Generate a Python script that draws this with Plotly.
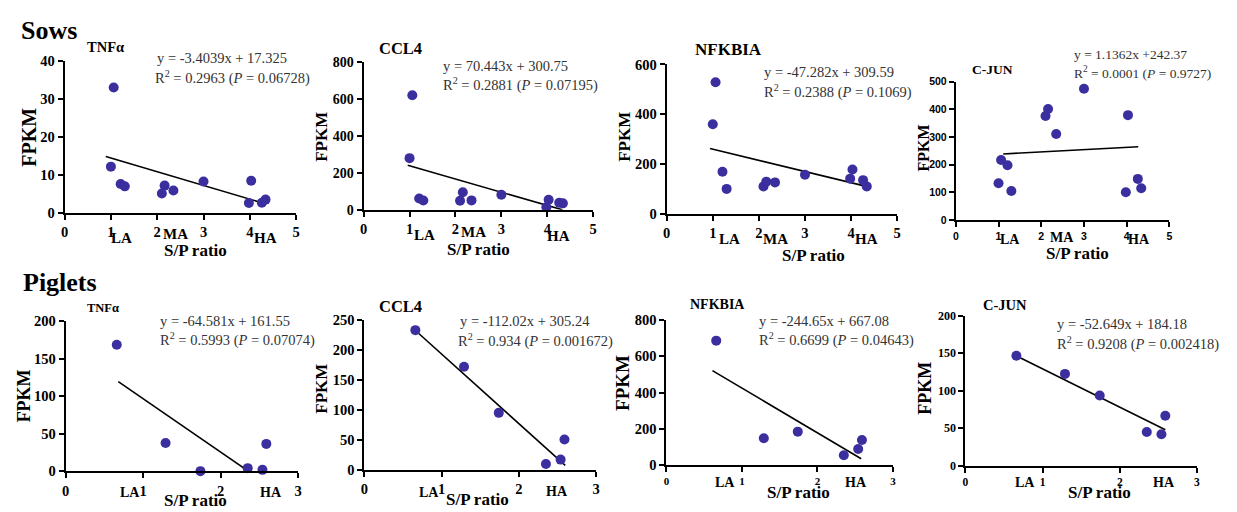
import plotly.graph_objects as go

W, H = 1237, 512
SERIF = "Liberation Serif"
SANS = "Liberation Sans"

# ---------------- data ----------------
sow_sp = [1.0, 1.06, 1.21, 1.30, 2.10, 2.16, 2.35, 3.0, 3.98, 4.03, 4.26, 4.34]
sow_tnfa = [12.2, 33.1, 7.6, 7.0, 5.1, 7.2, 5.9, 8.3, 2.6, 8.5, 2.7, 3.5]
sow_ccl4 = [280, 621, 61, 50, 49, 95, 51, 82, 14, 54, 38, 35]
sow_nfkbia = [360, 529, 170, 101, 111, 130, 127, 158, 142, 179, 136, 111]
sow_cjun = [133, 217, 198, 105, 376, 401, 311, 474, 101, 379, 149, 115]

piglet_sp = [0.66, 1.29, 1.74, 2.35, 2.54, 2.59]
piglet_tnfa = [168.6, 37.8, 0.3, 4.3, 2.0, 36.6]
piglet_ccl4 = [233, 172, 95, 9.7, 17, 50.6]
piglet_nfkbia = [686, 149, 185, 55, 89, 139]
piglet_cjun = [146.6, 122.4, 93.5, 44.8, 41.8, 66.4]

# fitted lines as drawn (start, end)
fit_sow_tnfa_x, fit_sow_tnfa_y = [0.89, 4.2], [14.9, 2.9]
fit_sow_ccl4_x, fit_sow_ccl4_y = [0.96, 4.33], [241, 0]
fit_sow_nfkbia_x, fit_sow_nfkbia_y = [0.94, 4.24], [263, 115]
fit_sow_cjun_x, fit_sow_cjun_y = [1.11, 4.27], [239, 265]
fit_pig_tnfa_x, fit_pig_tnfa_y = [0.68, 2.46], [119.6, -7]
fit_pig_ccl4_x, fit_pig_ccl4_y = [0.69, 2.6], [229, 7.5]
fit_pig_nfkbia_x, fit_pig_nfkbia_y = [0.61, 2.58], [521, 36]
fit_pig_cjun_x, fit_pig_cjun_y = [0.67, 2.59], [146, 47.8]

sow_xticks = [0, 1, 2, 3, 4, 5]
piglet_xticks = [0, 1, 2, 3]

eq_line1 = ["y = -3.4039x + 17.325", "y = 70.443x + 300.75", "y = -47.282x + 309.59",
            "y = 1.1362x +242.37", "y = -64.581x + 161.55", "y = -112.02x + 305.24",
            "y = -244.65x + 667.08", "y = -52.649x + 184.18"]
r2_vals = ["0.2963", "0.2881", "0.2388", "0.0001", "0.5993", "0.934", "0.6699", "0.9208"]
p_vals = ["0.06728", "0.07195", "0.1069", "0.9727", "0.07074", "0.001672", "0.04643", "0.002418"]
genes = ["TNFα", "CCL4", "NFKBIA", "C-JUN", "TNFα", "CCL4", "NFKBIA", "C-JUN"]

MARKER = "#3b2f9f"

panels = [
    dict(x=sow_sp, y=sow_tnfa, fx=fit_sow_tnfa_x, fy=fit_sow_tnfa_y, xt=sow_xticks, ymax=40, dy=10,
         box=(61, 55, 294, 211.5), tf=(SERIF, 14.5), xtf=(SERIF, 14.5),
         title=(82, 40, 14.5), eq=(152, 52, 150, 72, 14.5), fp=(25, 133, 20),
         grp=[("LA", 118, 237), ("MA", 173, 233), ("HA", 263, 237)], sp=(193, 250)),
    dict(x=sow_sp, y=sow_ccl4, fx=fit_sow_ccl4_x, fy=fit_sow_ccl4_y, xt=sow_xticks, ymax=800, dy=200,
         box=(362, 56, 593, 208.3), tf=(SERIF, 14), xtf=(SERIF, 14.5),
         title=(375, 42, 16.5), eq=(440, 60, 440, 79, 14.5), fp=(320, 133, 17),
         grp=[("LA", 423, 234), ("MA", 473, 231), ("HA", 558, 235)], sp=(478, 249)),
    dict(x=sow_sp, y=sow_nfkbia, fx=fit_sow_nfkbia_x, fy=fit_sow_nfkbia_y, xt=sow_xticks, ymax=600, dy=200,
         box=(667, 58.3, 899, 212.7), tf=(SERIF, 14.5), xtf=(SERIF, 14.5),
         title=(693, 43, 17), eq=(763, 66, 763, 86, 14.5), fp=(625, 133, 17),
         grp=[("LA", 730, 238), ("MA", 777, 238), ("HA", 868, 238)], sp=(815, 255)),
    dict(x=sow_sp, y=sow_cjun, fx=fit_sow_cjun_x, fy=fit_sow_cjun_y, xt=sow_xticks, ymax=500, dy=100,
         box=(958, 76, 1173, 219), tf=(SANS, 10.5), xtf=(SANS, 10.5),
         title=(972, 63, 13.5), eq=(1075, 48, 1075, 67, 13.5), fp=(925, 145, 16),
         grp=[("LA", 1013, 239), ("MA", 1065, 237), ("HA", 1142, 239)], sp=(1080, 253)),
    dict(x=piglet_sp, y=piglet_tnfa, fx=fit_pig_tnfa_x, fy=fit_pig_tnfa_y, xt=piglet_xticks, ymax=200, dy=50,
         box=(62, 323.3, 296, 478.3), tf=(SERIF, 14.5), xtf=(SERIF, 14.5),
         title=(82, 310, 12.5), eq=(155, 323, 155, 342, 14.5), fp=(20, 400, 18),
         grp=[("LA", 127, 500), ("HA", 269, 500)], sp=(193, 508)),
    dict(x=piglet_sp, y=piglet_ccl4, fx=fit_pig_ccl4_x, fy=fit_pig_ccl4_y, xt=piglet_xticks, ymax=250, dy=50,
         box=(362.7, 322, 596, 476.7), tf=(SERIF, 14.5), xtf=(SERIF, 14.5),
         title=(375, 308, 16.5), eq=(457, 323, 455, 343, 14.5), fp=(320, 393, 17),
         grp=[("LA", 428, 500), ("HA", 557, 499)], sp=(477, 507)),
    dict(x=piglet_sp, y=piglet_nfkbia, fx=fit_pig_nfkbia_x, fy=fit_pig_nfkbia_y, xt=piglet_xticks, ymax=800, dy=200,
         box=(666.7, 322, 894.7, 472), tf=(SERIF, 14.5), xtf=(SERIF, 11),
         title=(688, 306, 14), eq=(758, 323, 758, 342, 14.5), fp=(623, 387, 19),
         grp=[("LA", 726, 490), ("HA", 858, 490)], sp=(800, 500)),
    dict(x=piglet_sp, y=piglet_cjun, fx=fit_pig_cjun_x, fy=fit_pig_cjun_y, xt=piglet_xticks, ymax=200, dy=50,
         box=(967.7, 317.7, 1200.7, 472.3), tf=(SERIF, 12), xtf=(SERIF, 11.5),
         title=(983, 307, 14.5), eq=(1058, 326, 1058, 346, 14.5), fp=(927, 393, 18),
         grp=[("LA", 1028, 490), ("HA", 1168, 490)], sp=(1103, 500)),
]


def px(xp):
    return xp / W


def py(yp):
    return 1 - yp / H


def ann(text, x, y, size, bold=False, xanchor="center", family=SERIF, angle=0, color="black"):
    return dict(text=text, x=px(x), y=py(y), xref="paper", yref="paper", showarrow=False,
                xanchor=xanchor, yanchor="middle", textangle=angle,
                font=dict(family=family, size=size, color=color, weight="bold" if bold else "normal"))


fig = go.Figure()
layout = dict(width=W, height=H, margin=dict(l=0, r=0, t=0, b=0),
              paper_bgcolor="white", plot_bgcolor="white", showlegend=False)
annotations = [ann("Sows", 15, 23, 26, True, "left"), ann("Piglets", 17, 283, 26, True, "left")]

for i, p in enumerate(panels, start=1):
    xs = "" if i == 1 else str(i)
    fig.add_trace(go.Scatter(x=p["fx"], y=p["fy"], mode="lines",
                             line=dict(color="black", width=1.6),
                             xaxis="x" + xs, yaxis="y" + xs, hoverinfo="skip"))
    fig.add_trace(go.Scatter(x=p["x"], y=p["y"], mode="markers", cliponaxis=False,
                             marker=dict(color=MARKER, size=10),
                             xaxis="x" + xs, yaxis="y" + xs))
    x0, y0, x1, y1 = p["box"]
    xmax = p["xt"][-1]
    yt = list(range(0, p["ymax"] + 1, p["dy"]))
    layout["xaxis" + xs] = dict(domain=[px(x0), px(x1)], range=[0, xmax], anchor="y" + xs,
                                showline=True, linecolor="black", linewidth=2, mirror=False,
                                ticks="outside", ticklen=5, tickwidth=2, tickcolor="black",
                                tickvals=p["xt"], ticktext=[str(t) for t in p["xt"]],
                                tickfont=dict(family=p["xtf"][0], size=p["xtf"][1], color="black", weight="bold"),
                                showgrid=False, zeroline=False, fixedrange=True)
    layout["yaxis" + xs] = dict(domain=[py(y1), py(y0)], range=[0, p["ymax"]], anchor="x" + xs,
                                showline=True, linecolor="black", linewidth=2,
                                ticks="outside", ticklen=5, tickwidth=2, tickcolor="black",
                                tickvals=yt, ticktext=[str(t) for t in yt],
                                tickfont=dict(family=p["tf"][0], size=p["tf"][1], color="black", weight="bold"),
                                showgrid=False, zeroline=False, fixedrange=True)
    tx, ty, ts = p["title"]
    annotations.append(ann(genes[i - 1], tx, ty, ts, True, "left"))
    ex1, ey1, ex2, ey2, es = p["eq"]
    annotations.append(ann(eq_line1[i - 1], ex1, ey1, es, False, "left", color="#333333"))
    annotations.append(ann("R<sup>2</sup> = " + r2_vals[i - 1] + " (<i>P</i> = " + p_vals[i - 1] + ")",
                           ex2, ey2, es, False, "left", color="#333333"))
    fx_, fy_, fs = p["fp"]
    annotations.append(ann("FPKM", fx_, fy_, fs, True, "center", angle=-90))
    for lab, gx, gy in p["grp"]:
        annotations.append(ann(lab, gx, gy, 15 if i < 4 else 14, True, "center"))
    sx, sy = p["sp"]
    annotations.append(ann("S/P ratio", sx, sy, 17, True, "center"))

layout["annotations"] = annotations
fig.update_layout(**layout)
fig.write_html("out.html", config={"displayModeBar": False, "staticPlot": True},
               post_script="document.body.style.margin='0';document.body.style.overflow='hidden';")
